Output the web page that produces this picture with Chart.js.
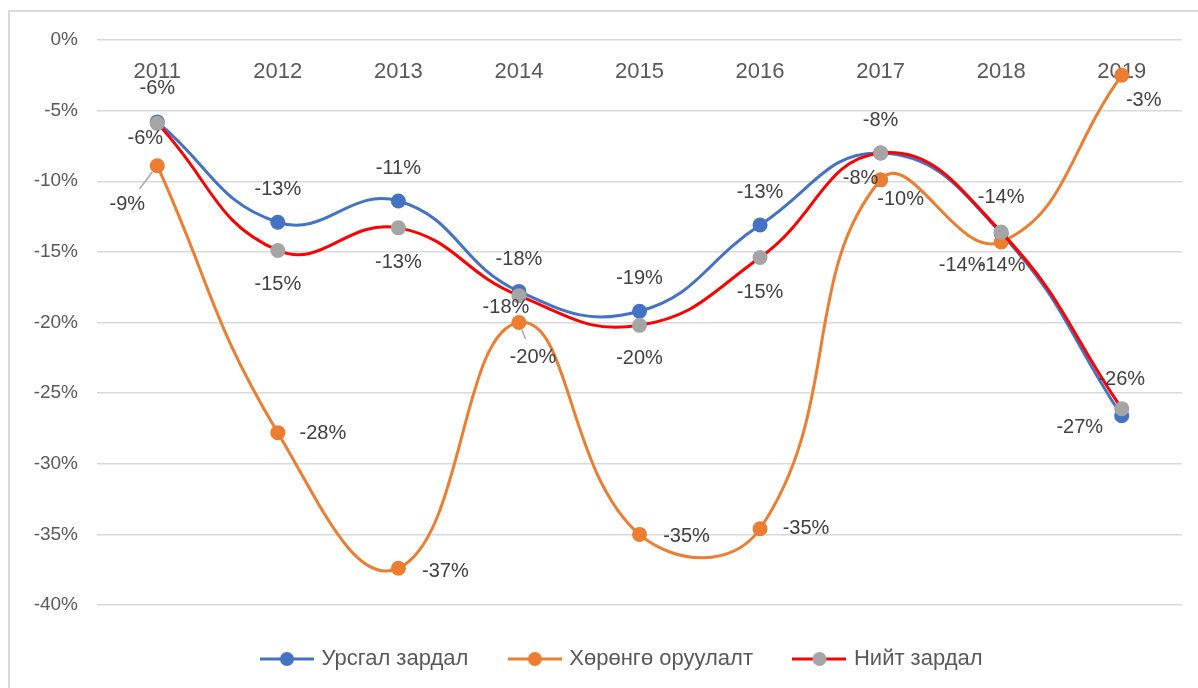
<!DOCTYPE html>
<html>
<head>
<meta charset="utf-8">
<script src="https://cdn.jsdelivr.net/npm/chart.js@4.4.1/dist/chart.umd.min.js"></script>
<style>
  body { margin: 0; background: #fff; }
  #wrap { position: relative; width: 1198px; height: 688px; }
  #frame { position: absolute; left: 8px; top: 10px; right: -2px; bottom: -2px; border-left: 2px solid #d9d9d9; border-top: 2px solid #d9d9d9; }
  canvas { position: absolute; left: 0; top: 0; }
</style>
</head>
<body>
<div id="wrap"><div id="frame"></div><canvas id="myChart"></canvas></div>
<script>
var years = ['2011', '2012', '2013', '2014', '2015', '2016', '2017', '2018', '2019'];
var ursgal = [-5.8, -12.9, -11.4, -17.8, -19.2, -13.1, -8.0, -13.7, -26.6];
var khurungu = [-8.9, -27.8, -37.4, -20.0, -35.0, -34.6, -9.9, -14.3, -2.5];
var niit = [-5.9, -14.9, -13.3, -18.1, -20.2, -15.4, -8.0, -13.6, -26.1];
var yTicks = [0, -5, -10, -15, -20, -25, -30, -35, -40];

// where each value label sits, relative to its point
var ursgalLbl = [[0,-33],[0,-33],[0,-33],[0,-32],[0,-33],[0,-33],[0,-33],[0,-36],[-42,12]];
var khurunguLbl = [[-30,39],[45,1],[47,3],[14,35],[47,2],[46,0],[20,20],[-39,23],[22,25]];
var niitLbl = [[-12,15],[0,34],[0,35],[-13,12],[0,33],[0,35],[-20,25],[1,33],[0,-29]];
var khurunguLeaders = [0, 3];

var font = "'Liberation Sans', Arial, sans-serif";

function legendMark(lineColor, dotColor) {
    var c = document.createElement('canvas');
    c.width = 54; c.height = 16;
    var g = c.getContext('2d');
    g.strokeStyle = lineColor; g.lineWidth = 3;
    g.beginPath(); g.moveTo(0, 8); g.lineTo(54, 8); g.stroke();
    g.fillStyle = dotColor;
    g.beginPath(); g.arc(27, 8, 7, 0, Math.PI * 2); g.fill();
    return c;
}
var marks = [legendMark('#4472C4', '#4472C4'), legendMark('#ED7D31', '#ED7D31'), legendMark('#FF0000', '#A5A5A5')];

// excel style rounding, half away from zero
function pct(v) { return (v < 0 ? -Math.round(-v) : Math.round(v)) + '%'; }

var valueLabels = {
    id: 'valueLabels',
    afterDatasetsDraw: function(chart) {
        var c = chart.ctx;
        var offs = [ursgalLbl, khurunguLbl, niitLbl];
        c.save();
        c.font = '20px ' + font;
        c.fillStyle = '#404040';
        c.textAlign = 'center';
        c.textBaseline = 'middle';
        chart.data.datasets.forEach(function(ds, i) {
            var meta = chart.getDatasetMeta(i);
            meta.data.forEach(function(pt, j) {
                var o = offs[i][j];
                if (i === 1 && khurunguLeaders.indexOf(j) >= 0) {
                    var len = Math.sqrt(o[0] * o[0] + o[1] * o[1]);
                    var ux = o[0] / len, uy = o[1] / len;
                    c.strokeStyle = '#a6a6a6';
                    c.lineWidth = 1.5;
                    c.beginPath();
                    c.moveTo(pt.x + ux * 8, pt.y + uy * 8);
                    c.lineTo(pt.x + ux * (len - 20), pt.y + uy * (len - 20));
                    c.stroke();
                }
                c.fillText(pct(ds.data[j]), pt.x + o[0], pt.y + o[1]);
            });
        });
        c.restore();
    }
};

// the legend sits a bit right of center in the original
var legendShift = {
    id: 'legendShift',
    afterLayout: function(chart) { chart.legend.left += 64; }
};

var ctx = document.getElementById("myChart");
var myChart = new Chart(ctx, {
    type: 'line',
    data: {
        labels: years,
        datasets: [{
            label: 'Урсгал зардал',
            data: ursgal,
            borderColor: '#4472C4',
            backgroundColor: '#4472C4',
            order: 3
        }, {
            label: 'Хөрөнгө оруулалт',
            data: khurungu,
            borderColor: '#ED7D31',
            backgroundColor: '#ED7D31',
            order: 2
        }, {
            label: 'Нийт зардал',
            data: niit,
            borderColor: '#FF0000',
            backgroundColor: '#A5A5A5',
            order: 1
        }]
    },
    plugins: [valueLabels, legendShift],
    options: {
        responsive: true,
        maintainAspectRatio: false,
        animation: false,
        layout: { padding: { left: 0, top: 40, right: 16, bottom: 8 } },
        elements: {
            line: { borderWidth: 3, tension: 0.45, fill: false },
            point: { radius: 7.5, borderWidth: 0, hoverRadius: 7.5 }
        },
        scales: {
            x: {
                position: { y: 0 },
                offset: true,
                grid: { display: false },
                border: { display: false },
                ticks: { color: '#595959', font: { family: font, size: 22 }, padding: 11 }
            },
            y: {
                min: -40,
                max: 0,
                afterFit: function(s) { s.width = 97; },
                afterBuildTicks: function(s) { s.ticks = yTicks.map(function(v) { return { value: v }; }); },
                grid: { color: '#d9d9d9', lineWidth: 1.5, drawTicks: false },
                border: { display: false },
                ticks: {
                    color: '#595959',
                    font: { family: font, size: 19 },
                    padding: 19,
                    callback: function(v) { return v + '%'; }
                }
            }
        },
        plugins: {
            tooltip: { enabled: false },
            legend: {
                position: 'bottom',
                labels: {
                    color: '#595959',
                    font: { family: font, size: 22 },
                    usePointStyle: true,
                    pointStyleWidth: 47,
                    padding: 43,
                    sort: function(a, b) { return a.datasetIndex - b.datasetIndex; },
                    generateLabels: function(chart) {
                        var items = Chart.defaults.plugins.legend.labels.generateLabels(chart);
                        items.forEach(function(it) { it.pointStyle = marks[it.datasetIndex]; });
                        return items;
                    }
                }
            }
        }
    }
});
</script>
</body>
</html>
